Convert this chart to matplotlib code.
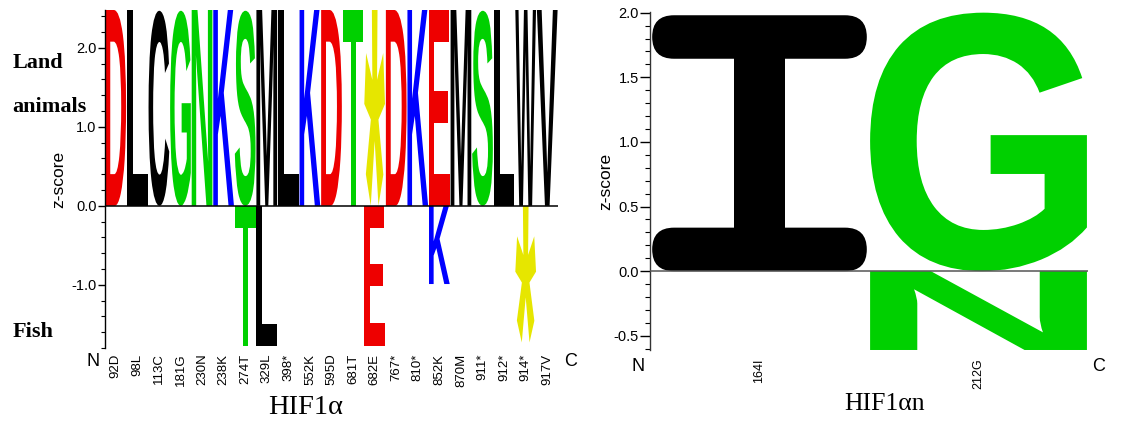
import matplotlib
matplotlib.use('Agg')
import matplotlib.pyplot as plt
from matplotlib.textpath import TextPath
from matplotlib.font_manager import FontProperties
from matplotlib.patches import PathPatch, FancyBboxPatch, Rectangle
from matplotlib.transforms import Affine2D, blended_transform_factory
from matplotlib.ticker import MultipleLocator, FormatStrFormatter

# HIF1a: sitios, letras arriba (animales terrestres) y abajo (peces)
sitios_a = ['92D', '98L', '113C', '181G', '230N', '238K', '274T', '329L', '398*', '552K',
            '595D', '681T', '682E', '767*', '810*', '852K', '870M', '911*', '912*', '914*', '917V']
tierra_a = ['D', 'L', 'C', 'G', 'N', 'K', 'S', 'M', 'L', 'K',
            'D', 'T', '*', 'D', 'K', 'E', 'M', 'S', 'L', 'W', 'V']
tierra_a_z = [2.48, 2.48, 2.47, 2.47, 2.48, 2.48, 2.47, 2.48, 2.48, 2.48,
              2.48, 2.48, 2.49, 2.48, 2.48, 2.48, 2.48, 2.47, 2.48, 2.48, 2.48]
peces_a_pos = [7, 8, 13, 16, 20]
peces_a = ['T', 'L', 'E', 'K', '*']
peces_a_z = [-1.77, -1.78, -1.77, -0.99, -1.73]

# HIF1an
sitios_n = ['164I', '212G']
tierra_n = ['I', 'G']
tierra_n_z = [1.98, 2.0]
peces_n_pos = [2]
peces_n = ['N']
peces_n_z = [-0.61]

colores = {'D': '#ee0000', 'E': '#ee0000',
           'K': '#0000ff', 'R': '#0000ff', 'H': '#0000ff',
           'G': '#00d000', 'S': '#00d000', 'T': '#00d000', 'N': '#00d000', 'Q': '#00d000', 'Y': '#00d000',
           '*': '#e6e600'}

fuente_logo = FontProperties(family='Liberation Sans', weight='bold')
tick_font = 'Liberation Sans'
serif = 'Liberation Serif'


def letra(ax, ch, x, z, ancho=0.96):
    y0, y1 = min(0, z), max(0, z)
    tp = TextPath((0, 0), ch, size=1, prop=fuente_logo)
    bb = tp.get_extents()
    t = Affine2D().translate(-bb.x0, -bb.y0).scale(ancho / bb.width, (y1 - y0) / bb.height)
    t = t.translate(x - ancho / 2, y0)
    ax.add_patch(PathPatch(tp, transform=t + ax.transData, fc=colores.get(ch, 'black'), lw=0))


def letra_I(ax, x, z, ancho=0.98):
    # I con barras de puntas redondeadas
    o = ax.transData.transform((0, 0))
    ma = (ax.transData.transform((1, 0))[0] - o[0]) / (ax.transData.transform((0, 1))[1] - o[1])
    barra = 0.17 * z
    r = barra / 2 / ma
    for yb in (0, z - barra):
        ax.add_patch(FancyBboxPatch((x - ancho / 2, yb), ancho, barra,
                                    boxstyle=f'round,pad=0,rounding_size={r}',
                                    mutation_aspect=ma, fc='black', ec='none'))
    ax.add_patch(Rectangle((x - 0.115, barra / 2), 0.23, z - barra, fc='black', ec='none'))


def ejes(ax, sitios, mayor, menor, fs_x, pad_x, tam_mayor, tam_menor):
    for s in ['top', 'right', 'bottom']:
        ax.spines[s].set_visible(False)
    ax.spines['left'].set_linewidth(1.0)
    ax.yaxis.set_major_locator(MultipleLocator(mayor))
    ax.yaxis.set_minor_locator(MultipleLocator(menor))
    ax.yaxis.set_major_formatter(FormatStrFormatter('%.1f'))
    ax.tick_params(axis='y', which='major', length=tam_mayor, width=1, pad=1, labelsize=10.5)
    ax.tick_params(axis='y', which='minor', length=tam_menor, width=0.8)
    for lab in ax.get_yticklabels():
        lab.set_family(tick_font)
    ax.set_xticks(range(1, len(sitios) + 1))
    ax.set_xticklabels(sitios, rotation=90, fontsize=fs_x, family=tick_font)
    ax.tick_params(axis='x', length=0, pad=pad_x)


fig = plt.figure(figsize=(11.31, 4.23), dpi=100)

# ---- panel izquierdo: HIF1a ----
ax1 = fig.add_axes([0.0928, 0.1773, 0.4006, 0.7991])
ax1.set_xlim(0.5, len(sitios_a) + 0.5)
ax1.set_ylim(-1.8, 2.48)
for i, (ch, z) in enumerate(zip(tierra_a, tierra_a_z)):
    letra(ax1, ch, i + 1, z)
for p, ch, z in zip(peces_a_pos, peces_a, peces_a_z):
    letra(ax1, ch, p, z)
ax1.axhline(0, color='black', lw=1.1, zorder=5)
ejes(ax1, sitios_a, 1.0, 0.2, 9.5, 4, 5, 3)
ax1.set_ylabel('z-score', fontsize=12.5, family=tick_font)
ax1.yaxis.set_label_coords(-0.1015, 0.5)
ax1.yaxis.label.set_va('center')
tr1 = blended_transform_factory(ax1.transData, ax1.transAxes)
ax1.text(-0.06, -0.041, 'N', transform=tr1, ha='center', va='center', fontsize=13, family=tick_font)
ax1.text(22.06, -0.041, 'C', transform=tr1, ha='center', va='center', fontsize=13, family=tick_font)

fig.text(0.0115, 0.839, 'Land', fontsize=16, weight='bold', family=serif)
fig.text(0.0106, 0.735, 'animals', fontsize=16, weight='bold', family=serif)
fig.text(0.0115, 0.203, 'Fish', fontsize=16, weight='bold', family=serif)
fig.text(0.270, 0.006, 'HIF1\u03b1', fontsize=20.5, family=serif, ha='center', va='bottom')

# ---- panel derecho: HIF1an ----
ax2 = fig.add_axes([0.5747, 0.1726, 0.3873, 0.7990])
ax2.set_xlim(0.5, len(sitios_n) + 0.5)
ax2.set_ylim(-0.61, 2.005)
for i, (ch, z) in enumerate(zip(tierra_n, tierra_n_z)):
    if ch == 'I':
        letra_I(ax2, i + 1, z)
    else:
        letra(ax2, ch, i + 1, z, ancho=0.99)
for p, ch, z in zip(peces_n_pos, peces_n, peces_n_z):
    letra(ax2, ch, p, z, ancho=0.99)
ax2.axhline(0, color='#555555', lw=1.1, zorder=5)
ejes(ax2, sitios_n, 0.5, 0.1, 9, 6, 7, 3.5)
ax2.spines['left'].set_color('#333333')
ax2.set_ylabel('z-score', fontsize=12.5, family=tick_font)
ax2.yaxis.set_label_coords(-0.100, 0.5)
ax2.yaxis.label.set_va('center')
tr2 = blended_transform_factory(ax2.transData, ax2.transAxes)
ax2.text(0.445, -0.05, 'N', transform=tr2, ha='center', va='center', fontsize=13, family=tick_font)
ax2.text(2.546, -0.05, 'C', transform=tr2, ha='center', va='center', fontsize=13, family=tick_font)
fig.text(0.7825, 0.018, 'HIF1\u03b1n', fontsize=18.5, family=serif, ha='center', va='bottom')

plt.savefig('out.png', dpi=100)
